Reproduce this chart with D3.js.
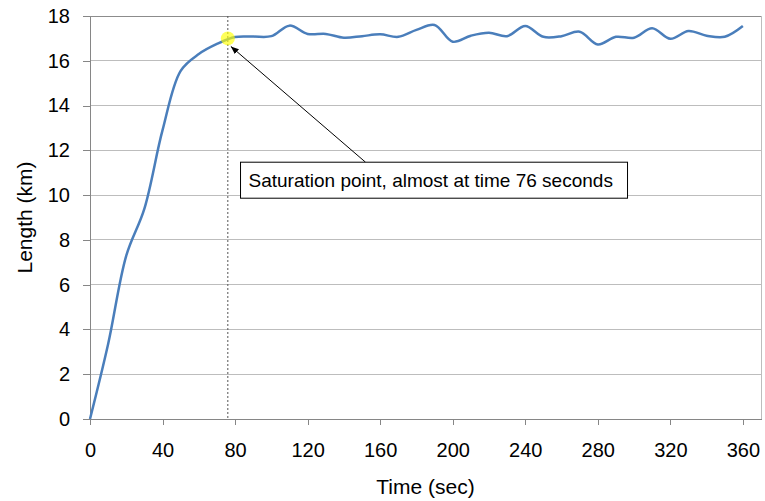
<!DOCTYPE html>
<html>
<head>
<meta charset="utf-8">
<script src="https://cdn.jsdelivr.net/npm/d3@7"></script>
<style>
  body { margin: 0; background: #fff; }
  svg { display: block; font-family: "Liberation Sans", Arial, sans-serif; }
</style>
</head>
<body>
<svg id="chart" width="765" height="501"></svg>
<script>
// ---- data ----
const times = [0,10,20,30,40,50,60,70,80,90,100,110,120,130,140,150,160,170,180,190,200,210,220,230,240,250,260,270,280,290,300,310,320,330,340,350,360];
const lengths = [0,3.35,7.3,9.4,12.9,15.55,16.3,16.75,17.06,17.08,17.1,17.57,17.2,17.2,17.03,17.1,17.18,17.07,17.38,17.6,16.85,17.12,17.25,17.1,17.55,17.07,17.1,17.3,16.73,17.07,17.03,17.45,16.98,17.33,17.12,17.07,17.55];
const xTicks = [0,40,80,120,160,200,240,280,320,360];
const yTicks = [0,2,4,6,8,10,12,14,16,18];
const saturationTime = 76;
const saturationLength = 17.0;
const annotationText = "Saturation point, almost at time 76 seconds";
const xTitle = "Time (sec)";
const yTitle = "Length (km)";

const data = times.map((t, i) => ({t, v: lengths[i]}));

const svg = d3.select("#chart");
const x = d3.scaleLinear().domain([0, 370]).range([90, 761]);
const y = d3.scaleLinear().domain([0, 18]).range([419, 16]);

// gridlines
svg.append("g").selectAll("line").data(yTicks.filter(d => d > 0)).join("line")
  .attr("x1", x(0)).attr("x2", x(370))
  .attr("y1", d => y(d)).attr("y2", d => y(d))
  .attr("stroke", d => d === 18 ? "#8c8c8c" : "#bdbdbd").attr("stroke-width", 1)
  .attr("shape-rendering", "crispEdges");

// right border
svg.append("line").attr("x1", x(370)).attr("x2", x(370)).attr("y1", y(18)).attr("y2", y(0))
  .attr("stroke", "#bdbdbd").attr("shape-rendering", "crispEdges");

// axes
const xAxis = d3.axisBottom(x).tickValues(xTicks).tickSize(6).tickPadding(18).tickSizeOuter(0);
const gx = svg.append("g").attr("transform", `translate(0,${y(0)})`).call(xAxis);
gx.select(".domain").attr("stroke", "#868686").attr("shape-rendering", "crispEdges");
gx.selectAll(".tick line").attr("stroke", "#868686").attr("shape-rendering", "crispEdges");
gx.selectAll("text").attr("font-size", 20).attr("fill", "#000")
  .attr("font-family", "Liberation Sans, Arial, sans-serif");

const yAxis = d3.axisLeft(y).tickValues(yTicks).tickSize(7).tickPadding(13).tickSizeOuter(0);
const gy = svg.append("g").attr("transform", `translate(${x(0)},0)`).call(yAxis);
gy.select(".domain").attr("stroke", "#868686").attr("shape-rendering", "crispEdges");
gy.selectAll(".tick line").attr("stroke", "#868686").attr("shape-rendering", "crispEdges");
gy.selectAll("text").attr("font-size", 20).attr("fill", "#000")
  .attr("font-family", "Liberation Sans, Arial, sans-serif");

// axis titles
svg.append("text").attr("x", (x(0) + x(370)) / 2).attr("y", 494)
  .attr("text-anchor", "middle").attr("font-size", 21).text(xTitle);
svg.append("text").attr("transform", `translate(32,${(y(0) + y(18)) / 2}) rotate(-90)`)
  .attr("text-anchor", "middle").attr("font-size", 21).text(yTitle);

// vertical dotted line at saturation time
svg.append("line").attr("x1", x(saturationTime)).attr("x2", x(saturationTime))
  .attr("y1", y(18)).attr("y2", y(0))
  .attr("stroke", "#555").attr("stroke-width", 1).attr("stroke-dasharray", "2,2");

// data line
const line = d3.line().x(d => x(d.t)).y(d => y(d.v)).curve(d3.curveCatmullRom.alpha(0.5));
svg.append("path").datum(data).attr("d", line)
  .attr("fill", "none").attr("stroke", "#4a7ebb").attr("stroke-width", 2.5);

// saturation marker
svg.append("circle").attr("cx", x(saturationTime)).attr("cy", y(saturationLength)).attr("r", 7)
  .attr("fill", "#ffff00").attr("fill-opacity", 0.65);

// arrow
svg.append("defs").append("marker").attr("id", "arrow")
  .attr("viewBox", "0 0 10 10").attr("refX", 10).attr("refY", 5)
  .attr("markerWidth", 8).attr("markerHeight", 8).attr("orient", "auto")
  .append("path").attr("d", "M0,1 L10,5 L0,9 Z").attr("fill", "#000");

const boxX = x(83), boxY = y(11.47), boxW = 387, boxH = 36;
svg.append("line")
  .attr("x1", boxX + 125).attr("y1", boxY)
  .attr("x2", x(saturationTime) + 3).attr("y2", y(saturationLength) + 8)
  .attr("stroke", "#000").attr("stroke-width", 1).attr("marker-end", "url(#arrow)");

svg.append("rect").attr("x", boxX).attr("y", boxY).attr("width", boxW).attr("height", boxH)
  .attr("fill", "#fff").attr("stroke", "#000").attr("stroke-width", 1);
svg.append("text").attr("x", boxX + 8).attr("y", boxY + 25)
  .attr("font-size", 19).attr("fill", "#000").text(annotationText);
</script>
</body>
</html>
